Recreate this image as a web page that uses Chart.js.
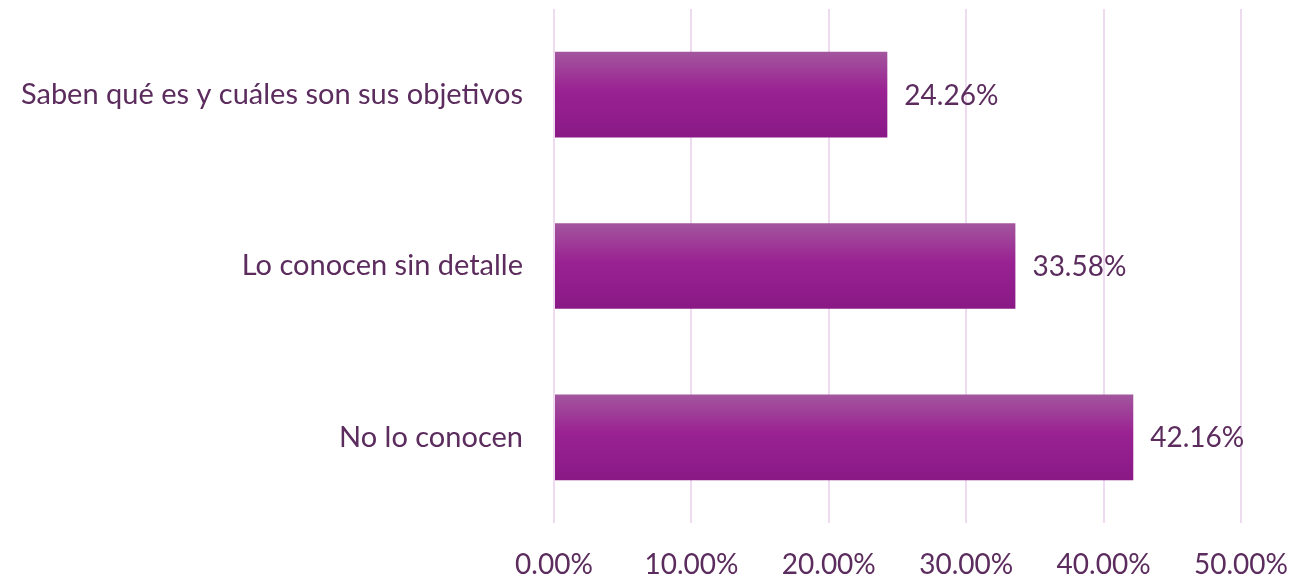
<!DOCTYPE html>
<html>
<head>
<meta charset="utf-8">
<script src="https://cdn.jsdelivr.net/npm/chart.js@4/dist/chart.umd.min.js"></script>
<style>
html,body{margin:0;padding:0;background:#fff;}
#wrap{width:1293px;height:577px;position:relative;}
</style>
</head>
<body>
<div id="wrap"><canvas id="c"></canvas></div>
<script>
const categories = ["Saben qué es y cuáles son sus objetivos", "Lo conocen sin detalle", "No lo conocen"];
const values = [24.26, 33.58, 42.16];
const tickValues = [0, 10, 20, 30, 40, 50];

const textColor = '#5b2c5d';
const fontFamily = 'Lato, "Open Sans", sans-serif';

function barGradient(ctx) {
  const chart = ctx.chart;
  const y = chart.scales && chart.scales.y;
  if (!y || ctx.dataIndex === undefined) return '#9a2392';
  const c = y.getPixelForValue(ctx.dataIndex);
  const band = Math.abs(y.getPixelForValue(1) - y.getPixelForValue(0));
  if (!isFinite(c) || !isFinite(band) || band <= 0) return '#9a2392';
  const h = band * 0.5;
  const g = chart.ctx.createLinearGradient(0, c - h / 2, 0, c + h / 2);
  g.addColorStop(0, '#a3569e');
  g.addColorStop(0.45, '#9a2292');
  g.addColorStop(1, '#891986');
  return g;
}

const valueLabels = {
  id: 'valueLabels',
  afterDatasetsDraw(chart) {
    const ctx = chart.ctx;
    const meta = chart.getDatasetMeta(0);
    ctx.save();
    ctx.fillStyle = textColor;
    ctx.font = '28px ' + fontFamily;
    ctx.textAlign = 'left';
    ctx.textBaseline = 'middle';
    meta.data.forEach((el, i) => {
      ctx.fillText(values[i].toFixed(2) + '%', el.x + 17, el.y + 1);
    });
    ctx.restore();
  }
};

new Chart(document.getElementById('c'), {
  type: 'bar',
  data: {
    labels: categories,
    datasets: [{
      data: values,
      backgroundColor: barGradient,
      borderWidth: 0,
      categoryPercentage: 1,
      barPercentage: 0.5
    }]
  },
  options: {
    indexAxis: 'y',
    responsive: true,
    maintainAspectRatio: false,
    animation: false,
    layout: { padding: { top: 9, right: 52, left: 0, bottom: 0 } },
    plugins: { legend: { display: false }, tooltip: { enabled: false } },
    scales: {
      x: {
        min: 0, max: 50,
        afterBuildTicks(scale) { scale.ticks = tickValues.map(v => ({ value: v })); },
        afterFit(scale) { scale.height = 54; scale.paddingLeft = 0; scale.paddingRight = 0; },
        grid: { color: '#eedbef', lineWidth: 2, drawTicks: false },
        border: { display: false },
        ticks: {
          color: textColor,
          font: { family: fontFamily, size: 28 },
          padding: 25,
          maxRotation: 0,
          callback: (v) => Number(v).toFixed(2) + '%'
        }
      },
      y: {
        afterFit(scale) { scale.width = 554; scale.paddingTop = 0; scale.paddingBottom = 0; },
        grid: { display: false, drawTicks: false },
        border: { display: false },
        ticks: {
          color: textColor,
          font: { family: fontFamily, size: 29 },
          padding: 31
        }
      }
    }
  },
  plugins: [valueLabels]
});
</script>
</body>
</html>
